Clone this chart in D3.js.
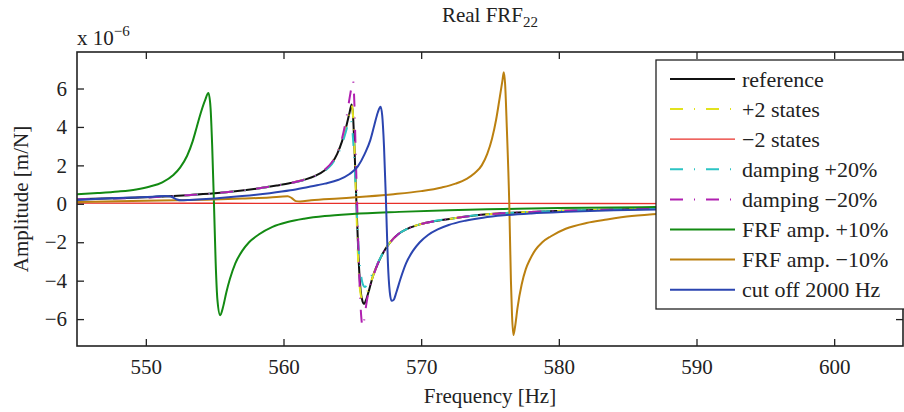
<!DOCTYPE html>
<html>
<head>
<meta charset="utf-8">
<script src="https://cdn.jsdelivr.net/npm/d3@7"></script>
<style>
  body { margin: 0; background: #fff; }
  svg text { font-family: "Liberation Serif", "Times New Roman", serif; fill: #222; }
</style>
</head>
<body>
<svg id="chart" width="904" height="412"></svg>
<script>
// Real part of FRF22 for several model variants, values in units of 1e-6 m/N

var xTicks = [550, 560, 570, 580, 590, 600];
var yTicks = [-6, -4, -2, 0, 2, 4, 6];

var seriesNames = ["reference", "+2 states", "\u22122 states", "damping +20%",
                   "damping \u221220%", "FRF amp. +10%", "FRF amp. \u221210%",
                   "cut off 2000 Hz"];

// [frequency Hz, amplitude]
var refPts = [[545,0.24],[547,0.27],[549,0.31],[551,0.37],[553,0.45],[555,0.55],
  [556.5,0.65],[558,0.78],[559.5,0.95],[560.5,1.08],[561.5,1.25],[562.3,1.45],
  [563,1.75],[563.5,2.1],[563.9,2.6],[564.25,3.25],[564.55,4.0],[564.8,4.75],
  [564.95,5.17],[565.05,4.6],[565.15,3.0],[565.3,0],[565.45,-2.8],[565.6,-4.5],
  [565.75,-5.1],[565.85,-5.22],[566,-5.0],[566.25,-4.4],[566.5,-3.76],
  [566.8,-3.2],[567.2,-2.6],[567.7,-2.05],[568.3,-1.6],[569,-1.3],[570,-1.05],
  [571,-0.9],[572.5,-0.74],[574,-0.6],[576,-0.49],[578,-0.42],[580.5,-0.36],
  [585,-0.28],[590,-0.23],[595,-0.19],[600,-0.16],[605,-0.14]];

var plus2Pts = [[545,0.24],[547,0.27],[549,0.31],[551,0.37],[553,0.45],[555,0.55],
  [556.5,0.65],[558,0.78],[559.5,0.95],[560.5,1.08],[561.5,1.25],[562.3,1.45],
  [563,1.75],[563.5,2.1],[563.9,2.6],[564.25,3.25],[564.55,4.0],[564.8,4.75],
  [564.95,5.15],[565.05,4.6],[565.15,3.0],[565.28,0],[565.42,-2.9],[565.58,-4.6],
  [565.72,-4.97],[565.85,-4.9],[566,-4.7],[566.25,-4.3],[566.5,-3.76],
  [566.8,-3.2],[567.2,-2.6],[567.7,-2.05],[568.3,-1.6],[569,-1.3],[570,-1.05],
  [571,-0.9],[572.5,-0.74],[574,-0.6],[576,-0.49],[578,-0.42],[580.5,-0.36],
  [585,-0.28],[590,-0.23],[595,-0.19],[600,-0.16],[605,-0.14]];

var minus2Pts = [[545,0.04],[555,0.03],[565,0.02],[575,0.02],[590,0.01],[605,0.01]];

var dampUpPts = [[545,0.24],[547,0.27],[549,0.31],[551,0.37],[553,0.45],[555,0.55],
  [556.5,0.65],[558,0.78],[559.5,0.95],[560.5,1.08],[561.5,1.24],[562.3,1.43],
  [563,1.72],[563.5,2.05],[563.9,2.5],[564.25,3.1],[564.55,3.8],[564.75,4.3],
  [564.85,4.4],[564.98,4.0],[565.12,2.6],[565.3,0],[565.48,-2.6],[565.65,-3.8],
  [565.8,-4.25],[565.92,-4.33],[566.1,-4.15],[566.3,-3.85],[566.5,-3.6],
  [566.8,-3.15],[567.2,-2.6],[567.7,-2.05],[568.3,-1.6],[569,-1.3],[570,-1.05],
  [571,-0.9],[572.5,-0.74],[574,-0.6],[576,-0.49],[578,-0.42],[580.5,-0.36],
  [585,-0.28],[590,-0.23],[595,-0.19],[600,-0.16],[605,-0.14]];

var dampDownPts = [[545,0.24],[547,0.27],[549.3,0.31],[549.8,0.41],[550.3,0.33],
  [551,0.37],[553,0.45],[555,0.55],[556.5,0.65],[558,0.78],[559.5,0.95],
  [560.5,1.08],[561.5,1.25],[562.3,1.46],[563,1.78],[563.5,2.15],[563.9,2.65],
  [564.25,3.4],[564.55,4.4],[564.8,5.5],[564.95,6.1],[565.05,6.4],[565.15,5.2],
  [565.25,2.5],[565.35,0],[565.45,-2.5],[565.55,-4.6],[565.65,-5.9],
  [565.75,-6.4],[565.85,-6.1],[566,-5.3],[566.2,-4.5],[566.5,-3.8],[566.8,-3.2],
  [567.2,-2.6],[567.7,-2.05],[568.3,-1.6],[569,-1.3],[570,-1.05],[571,-0.9],
  [572.5,-0.74],[574,-0.6],[576,-0.49],[578,-0.42],[580.5,-0.36],[585,-0.28],
  [590,-0.23],[595,-0.19],[600,-0.16],[605,-0.14]];

var ampUpPts = [[545,0.5],[546.5,0.56],[548,0.64],[549.3,0.75],[550.3,0.9],
  [551.2,1.12],[552,1.5],[552.5,1.9],[553,2.5],[553.4,3.25],[553.7,4.0],
  [554,4.75],[554.3,5.38],[554.55,5.76],[554.7,5.0],[554.82,3.0],[554.95,0],
  [555.07,-3.0],[555.2,-5.0],[555.4,-5.8],[555.6,-5.4],[555.85,-4.6],
  [556.1,-3.93],[556.5,-3.1],[557,-2.45],[557.5,-2.0],[558.2,-1.6],[559.2,-1.2],
  [560.3,-0.95],[561.5,-0.78],[563,-0.64],[565,-0.53],[568.4,-0.42],[572,-0.33],
  [576,-0.27],[580,-0.22],[587,-0.17],[595,-0.13],[605,-0.1]];

var ampDownPts = [[545,0.1],[548,0.13],[551,0.17],[554,0.21],[557,0.27],
  [559,0.33],[560.3,0.39],[560.6,0.3],[560.9,0.14],[561.2,0.12],[562,0.18],
  [564,0.28],[566,0.38],[568,0.5],[570,0.66],[571.5,0.85],[572.5,1.05],
  [573.3,1.3],[573.9,1.6],[574.4,2.0],[574.8,2.6],[575.15,3.4],[575.45,4.4],
  [575.7,5.5],[575.9,6.4],[576,6.85],[576.1,6.2],[576.22,4.0],[576.4,0],
  [576.52,-4.0],[576.6,-5.8],[576.7,-6.83],[576.82,-6.4],[577,-5.4],
  [577.3,-4.2],[577.6,-3.4],[577.9,-2.9],[578.3,-2.4],[578.8,-2.0],[579.4,-1.7],
  [580.5,-1.3],[582,-1.0],[583.5,-0.82],[585.3,-0.64],[588,-0.5],[592,-0.38],
  [596,-0.31],[600,-0.26],[605,-0.22]];

var cutoffPts = [[545,0.2],[547,0.27],[549,0.33],[550.5,0.37],[551.4,0.41],
  [551.8,0.38],[552.2,0.24],[552.6,0.18],[553.2,0.2],[555,0.28],[557,0.4],
  [559,0.55],[560.5,0.7],[561.8,0.88],[563,1.05],[564,1.25],[564.8,1.55],
  [565.4,1.95],[565.9,2.6],[566.3,3.3],[566.6,4.1],[566.85,4.75],[567.05,5.05],
  [567.17,4.6],[567.3,3.0],[567.45,0],[567.58,-3.0],[567.72,-4.6],[567.85,-5.05],
  [568,-5.0],[568.2,-4.6],[568.5,-3.9],[568.9,-3.1],[569.4,-2.45],[569.9,-2.0],
  [570.5,-1.62],[571.2,-1.33],[572,-1.1],[573.2,-0.88],[574.5,-0.72],[576,-0.6],
  [578,-0.5],[580.5,-0.42],[584,-0.34],[588,-0.28],[595,-0.21],[605,-0.16]];

var allPts = [refPts, plus2Pts, minus2Pts, dampUpPts, dampDownPts,
              ampUpPts, ampDownPts, cutoffPts];

// styles
var colors = ["#111111", "#e2e21e", "#e8302a", "#2cc4c4", "#b020b0",
              "#138a13", "#bb8010", "#2b45b0"];
var dashes = [null, "13,11,1,11", null, "13,11,1,11", "13,11,1,11",
              null, null, null];
var widths = [2, 2, 1.3, 2, 2, 2, 2, 2];

var fontFamily = '"Liberation Serif", "Times New Roman", serif';
var fontSize = 21;

var svg = d3.select("#chart");

var plot = { left: 77, right: 903, top: 52, bottom: 346 };

var x = d3.scaleLinear().domain([545, 605]).range([plot.left, plot.right]);
var y = d3.scaleLinear().domain([-7.4, 7.9]).range([plot.bottom, plot.top]);

svg.append("clipPath").attr("id", "clip")
  .append("rect")
    .attr("x", plot.left).attr("y", plot.top)
    .attr("width", plot.right - plot.left)
    .attr("height", plot.bottom - plot.top);

var line = d3.line()
  .x(function(d) { return x(d[0]); })
  .y(function(d) { return y(d[1]); })
  .curve(d3.curveMonotoneX);

var curves = svg.append("g").attr("clip-path", "url(#clip)");
allPts.forEach(function(pts, i) {
  curves.append("path")
    .attr("d", line(pts))
    .attr("fill", "none")
    .attr("stroke", colors[i])
    .attr("stroke-width", widths[i])
    .attr("stroke-dasharray", dashes[i])
    .attr("stroke-linejoin", "round");
});

// axes, ticks pointing inwards on all four sides
function styleTicks(g) {
  g.attr("font-family", null).attr("font-size", null);
  g.selectAll("text")
    .style("font-family", fontFamily)
    .style("font-size", fontSize + "px")
    .attr("fill", "#222");
}

svg.append("g")
  .attr("transform", "translate(0," + plot.bottom + ")")
  .call(d3.axisBottom(x).tickValues(xTicks).tickSizeInner(-7)
    .tickSizeOuter(0).tickPadding(13))
  .call(styleTicks);

svg.append("g")
  .attr("transform", "translate(0," + plot.top + ")")
  .call(d3.axisTop(x).tickValues(xTicks).tickSizeInner(-7)
    .tickSizeOuter(0).tickFormat(""));

svg.append("g")
  .attr("transform", "translate(" + plot.left + ",0)")
  .call(d3.axisLeft(y).tickValues(yTicks).tickSizeInner(-7)
    .tickSizeOuter(0).tickPadding(10)
    .tickFormat(function(d) { return d < 0 ? "\u2212" + (-d) : d; }))
  .call(styleTicks);

svg.append("g")
  .attr("transform", "translate(" + plot.right + ",0)")
  .call(d3.axisRight(y).tickValues(yTicks).tickSizeInner(-7)
    .tickSizeOuter(0).tickFormat(""));

svg.selectAll(".domain").remove();
svg.selectAll(".tick line").attr("stroke", "#222").attr("stroke-width", 1.3);

svg.append("rect")
  .attr("x", plot.left).attr("y", plot.top)
  .attr("width", plot.right - plot.left)
  .attr("height", plot.bottom - plot.top)
  .attr("fill", "none")
  .attr("stroke", "#222")
  .attr("stroke-width", 1.6);

// labels
var title = svg.append("text")
  .attr("x", (plot.left + plot.right) / 2)
  .attr("y", 22)
  .attr("text-anchor", "middle")
  .style("font-size", fontSize + "px");
title.append("tspan").text("Real FRF");
title.append("tspan").attr("dy", 5).style("font-size", "15px").text("22");

var expo = svg.append("text")
  .attr("x", plot.left)
  .attr("y", 45)
  .style("font-size", fontSize + "px");
expo.append("tspan").text("x 10");
expo.append("tspan").attr("dy", -9).style("font-size", "15px").text("\u22126");

svg.append("text")
  .attr("x", (plot.left + plot.right) / 2)
  .attr("y", 403)
  .attr("text-anchor", "middle")
  .style("font-size", fontSize + "px")
  .text("Frequency [Hz]");

svg.append("text")
  .attr("transform", "translate(28," + ((plot.top + plot.bottom) / 2) + ") rotate(-90)")
  .attr("text-anchor", "middle")
  .style("font-size", fontSize + "px")
  .text("Amplitude [m/N]");

// legend
var legend = svg.append("g").attr("transform", "translate(656,60)");
legend.append("rect")
  .attr("width", 260).attr("height", 249)
  .attr("fill", "#fff")
  .attr("stroke", "#222")
  .attr("stroke-width", 1.3);

seriesNames.forEach(function(name, i) {
  var ry = 19 + i * 30.1;
  legend.append("line")
    .attr("x1", 14).attr("x2", 79)
    .attr("y1", ry).attr("y2", ry)
    .attr("stroke", colors[i])
    .attr("stroke-width", widths[i])
    .attr("stroke-dasharray", dashes[i]);
  legend.append("text")
    .attr("x", 86).attr("y", ry)
    .attr("dy", "0.35em")
    .style("font-size", "22px")
    .text(name);
});
</script>
</body>
</html>
